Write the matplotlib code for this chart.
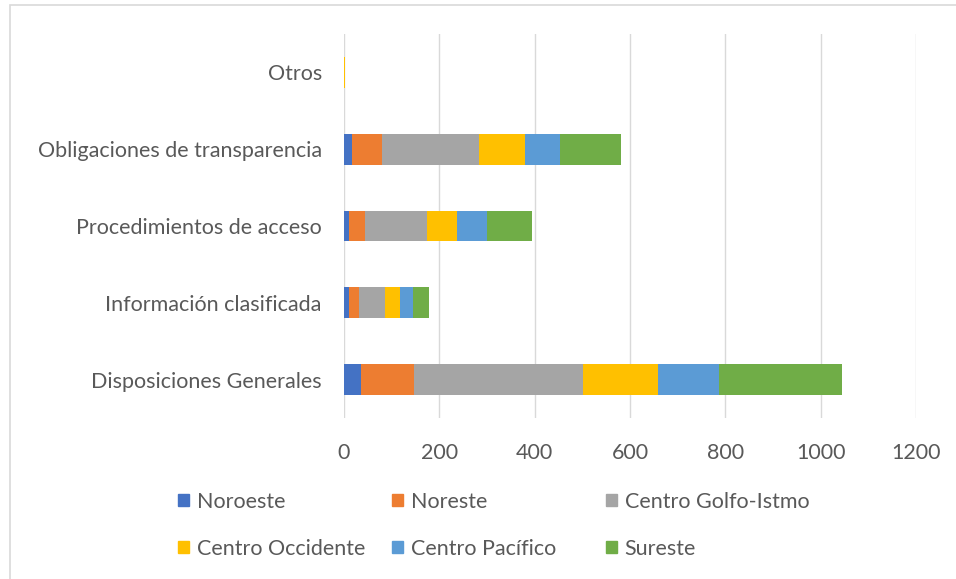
import matplotlib.pyplot as plt
import numpy as np
from matplotlib.patches import Rectangle, Patch

# categories bottom -> top
categories = ["Disposiciones Generales", "Información clasificada",
              "Procedimientos de acceso", "Obligaciones de transparencia", "Otros"]
regions = ["Noroeste", "Noreste", "Centro Golfo-Istmo",
           "Centro Occidente", "Centro Pacífico", "Sureste"]

noroeste = [35, 10, 10, 17, 0]
noreste = [112, 22, 34, 63, 0]
centro_golfo = [355, 54, 130, 203, 1]
centro_occidente = [157, 32, 63, 97, 2]
centro_pacifico = [128, 27, 64, 74, 0]
sureste = [258, 34, 94, 128, 0]

series = [noroeste, noreste, centro_golfo, centro_occidente, centro_pacifico, sureste]
colors = ["#4472C4", "#ED7D31", "#A5A5A5", "#FFC000", "#5B9BD5", "#70AD47"]

plt.rcParams['font.family'] = ['Lato', 'DejaVu Sans']
txt = "#595959"
fs = 15.5

fig = plt.figure(figsize=(9.56, 5.79), dpi=100)
ax = fig.add_axes([344 / 956, 1 - 418 / 579, 572 / 956, 384 / 579])

y = np.arange(len(categories))
left = np.zeros(len(categories))
for vals, c in zip(series, colors):
    ax.barh(y, vals, left=left, height=0.4, color=c, zorder=3)
    left += np.array(vals)

ax.set_xlim(0, 1200)
ax.set_ylim(-0.5, len(categories) - 0.5)
ax.set_xticks(np.arange(0, 1201, 200))
ax.set_yticks(y)
ax.set_yticklabels(categories)
ax.grid(axis='x', color='#d9d9d9', linewidth=1, zorder=0)
for s in ax.spines.values():
    s.set_visible(False)
ax.tick_params(axis='both', length=0, colors=txt, labelsize=fs)
ax.tick_params(axis='y', pad=16)
ax.tick_params(axis='x', pad=18)

# legend: three columns placed like the original
handles = [Patch(color=c) for c in colors]
col_x = [178, 392, 606]
for i, cx in enumerate(col_x):
    fig.legend([handles[i], handles[i + 3]], [regions[i], regions[i + 3]],
               loc='upper left', bbox_to_anchor=(cx / 956, 1 - 492 / 579),
               frameon=False, fontsize=fs, labelcolor=txt,
               handlelength=0.5, handleheight=0.5, handletextpad=0.37,
               labelspacing=1.25, borderpad=0, borderaxespad=0)

# outer chart frame
fig.patches.append(Rectangle((10 / 956, -0.1), 1.2, 1 - 5 / 579 + 0.1,
                             transform=fig.transFigure, fill=False,
                             edgecolor='#d9d9d9', linewidth=1.2))

fig.savefig("out.png", dpi=100)
